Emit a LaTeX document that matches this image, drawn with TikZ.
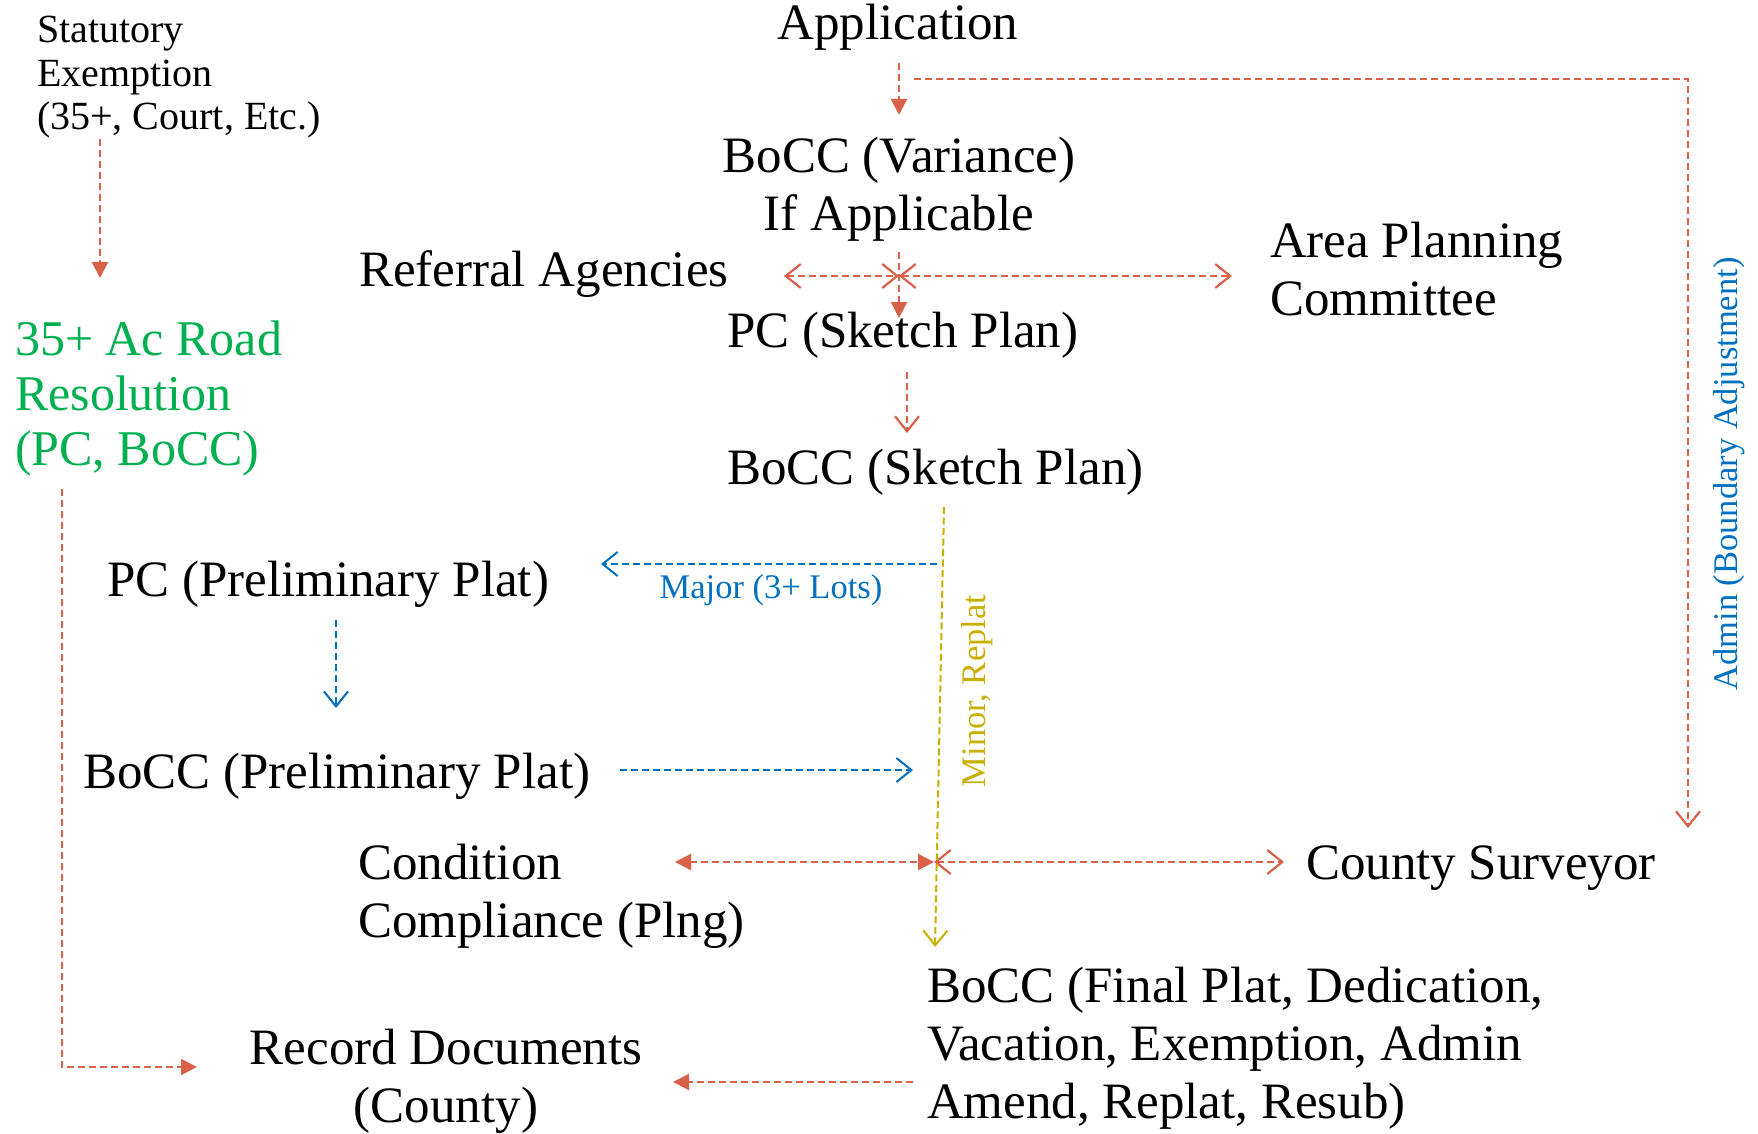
\documentclass[tikz,border=0pt]{standalone}
\usepackage{fontspec}
\setmainfont{Liberation Serif}
\usetikzlibrary{arrows.meta}
\definecolor{cred}{HTML}{D9614A}
\definecolor{cblue}{HTML}{0070C0}
\definecolor{cgreen}{HTML}{00B050}
\definecolor{cyel}{HTML}{C9B000}
\newcommand{\bstrut}{\rule{0pt}{42pt}}
\newcommand{\sstrut}{\rule{0pt}{33pt}}
\tikzset{
  big/.style={font=\fontsize{51}{58}\selectfont, inner sep=0pt, outer sep=0pt},
  mid/.style={font=\fontsize{50}{55}\selectfont, inner sep=0pt, outer sep=0pt},
  small/.style={font=\fontsize{40}{43.5}\selectfont, inner sep=0pt, outer sep=0pt},
  lbl/.style={font=\fontsize{34.5}{40}\selectfont, inner sep=0pt, outer sep=0pt},
  rline/.style={draw=cred, line width=2.2pt, dash pattern=on 7pt off 4pt},
  bline/.style={draw=cblue, line width=2pt, dash pattern=on 7pt off 4pt},
  yline/.style={draw=cyel, line width=2pt, dash pattern=on 7pt off 3.5pt},
  ftip/.tip={Triangle[length=16pt,width=16pt]},
  otip/.tip={Straight Barb[length=15pt,width=24pt]},
}
\begin{document}
\begin{tikzpicture}[x=1pt,y=-1pt]
\useasboundingbox (0,0) rectangle (1758,1134);

% texts
\node[small, anchor=north west, align=left] (stat) at (37,10) {\sstrut Statutory\\Exemption\\(35+, Court, Etc.)};
\node[mid, anchor=north west, align=left, text=cgreen] (road) at (15,313) {\bstrut 35+ Ac Road\\Resolution\\(PC, BoCC)};
\node[big, anchor=base] (app) at (898,40) {Application};
\node[big, anchor=north, align=center] (var) at (899,130) {\bstrut BoCC (Variance)\\If Applicable};
\node[big, anchor=base west] (ref) at (359,286) {Referral Agencies};
\node[big, anchor=north west, align=left] (apc) at (1270,215) {\bstrut Area Planning\\Committee};
\node[big, anchor=base west] (pcs) at (727,347) {PC (Sketch Plan)};
\node[big, anchor=base west] (bcs) at (727,484) {BoCC (Sketch Plan)};
\node[big, anchor=base west] (pcp) at (107,596) {PC (Preliminary Plat)};
\node[big, anchor=base west] (bcp) at (83,788) {BoCC (Preliminary Plat)};
\node[big, anchor=north west, align=left] (cc) at (358,837) {\bstrut Condition\\Compliance (Plng)};
\node[big, anchor=base west] (cs) at (1306,879) {County Surveyor};
\node[big, anchor=north west, align=left] (fin) at (927,960) {\bstrut BoCC (Final Plat, Dedication,\\Vacation, Exemption, Admin\\Amend, Replat, Resub)};
\node[big, anchor=north, align=center] (rec) at (446,1022) {\bstrut Record Documents\\(County)};
\node[lbl, anchor=base, text=cblue] (major) at (771,598) {Major (3+ Lots)};
\node[lbl, anchor=base, text=cyel, rotate=90] (minor) at (985,691) {Minor, Replat};
\node[lbl, anchor=base, text=cblue, rotate=90] (admin) at (1737,474) {Admin (Boundary Adjustment)};

% connector end points
\coordinate (stA) at (100,139);   \coordinate (stB) at (100,278);
\coordinate (apA) at (899,63);    \coordinate (apB) at (899,115);
\coordinate (adA) at (914,79);    \coordinate (adB) at (1688,828);
\coordinate (vaA) at (899,252);   \coordinate (vaB) at (899,318);
\coordinate (xA) at (899,276);    \coordinate (xL) at (784,276);   \coordinate (xR) at (1232,276);
\coordinate (skA) at (907,372);   \coordinate (skB) at (907,433);
\coordinate (miA) at (944,507);   \coordinate (miB) at (935,947);
\coordinate (maA) at (937,564);   \coordinate (maB) at (601,564);
\coordinate (ppA) at (336,620);   \coordinate (ppB) at (336,708);
\coordinate (bpA) at (620,770);   \coordinate (bpB) at (913,770);
\coordinate (yA) at (934,862);    \coordinate (yL) at (675,862);   \coordinate (yR) at (1284,862);
\coordinate (fiA) at (913,1082);  \coordinate (fiB) at (673,1082);
\coordinate (rdA) at (62,489);    \coordinate (rdB) at (197,1067);

% connectors
\draw[rline, -ftip] (stA) -- (stB);
\draw[rline, -ftip] (apA) -- (apB);
\draw[rline, -otip] (adA) -| (adB);
\draw[rline, otip-otip] (xL) -- (xA);
\draw[rline, otip-otip] (xA) -- (xR);
\draw[rline, -ftip] (vaA) -- (vaB);
\draw[rline, -otip] (skA) -- (skB);
\draw[bline, -otip] (maA) -- (maB);
\draw[bline, -otip] (ppA) -- (ppB);
\draw[bline, -otip] (bpA) -- (bpB);
\draw[rline, ftip-ftip] (yL) -- (yA);
\draw[rline, otip-otip] (yA) -- (yR);
\draw[yline, -otip] (miA) -- (miB);
\draw[rline, -ftip] (fiA) -- (fiB);
\draw[rline, -ftip] (rdA) |- (rdB);
\end{tikzpicture}
\end{document}
